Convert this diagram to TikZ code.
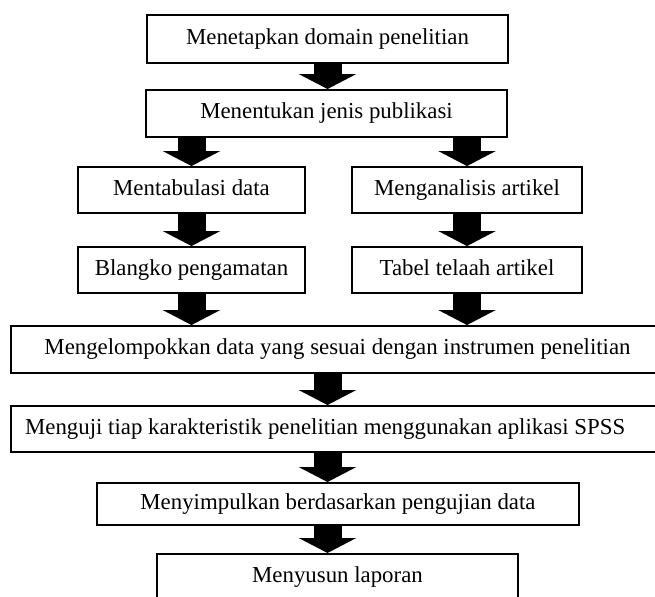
\documentclass[tikz,border=0pt]{standalone}
\usepackage{fontspec}
\setmainfont{Liberation Serif}
\usetikzlibrary{arrows.meta}

\begin{document}
\begin{tikzpicture}[x=0.02cm, y=-0.02cm, box/.style = {draw, line width=1.1pt, inner sep=0pt, text height=9pt, text depth=3pt, font=\fontsize{13}{15}\selectfont}, panah/.style = {line width=0.56cm, -{Triangle[length=0.3cm, width=1.14cm]}}]

    \useasboundingbox (0,0) rectangle (655,597);
    \clip (0,0) rectangle (655,597);

    % kotak
    \node[box, minimum width=7.22cm, minimum height=0.96cm] (domain) at (327.5,39) {Menetapkan domain penelitian};
    \node[box, minimum width=7.22cm, minimum height=0.94cm] (jenis) at (326.5,113.5) {Menentukan jenis publikasi};
    \node[box, minimum width=4.54cm, minimum height=0.92cm] (tabulasi) at (191.5,190) {Mentabulasi data};
    \node[box, minimum width=4.6cm, minimum height=0.92cm] (analisis) at (467,190) {Menganalisis artikel};
    \node[box, minimum width=4.54cm, minimum height=0.92cm] (blangko) at (191.5,270) {Blangko pengamatan};
    \node[box, minimum width=4.6cm, minimum height=0.92cm] (telaah) at (467,270) {Tabel telaah artikel};
    \node[box, minimum width=13.06cm, minimum height=0.94cm] (kelompok) at (337.5,349.5) {Mengelompokkan data yang sesuai dengan instrumen penelitian};
    \node[box, text width=12.5cm, inner xsep=0.28cm, align=flush left, minimum height=0.92cm] (uji) at (337.5,429) {Menguji tiap karakteristik penelitian menggunakan aplikasi SPSS};
    \node[box, minimum width=9.64cm, minimum height=0.84cm] (simpulkan) at (338,504) {Menyimpulkan berdasarkan pengujian data};
    \node[box, minimum width=7.22cm, inner ysep=0.25cm, text depth=30pt, anchor=north] (laporan) at (337.5,553) {Menyusun laporan};

    % panah
    \draw[panah] (domain.south) -- (jenis.north -| domain);
    \draw[panah] (jenis.south -| tabulasi) -- (tabulasi.north);
    \draw[panah] (jenis.south -| analisis) -- (analisis.north);
    \draw[panah] (tabulasi.south) -- (blangko.north);
    \draw[panah] (analisis.south) -- (telaah.north);
    \draw[panah] (blangko.south) -- (blangko.south |- kelompok.north);
    \draw[panah] (telaah.south) -- (telaah.south |- kelompok.north);
    \draw[panah] (kelompok.south -| domain) -- (uji.north -| domain);
    \draw[panah] (uji.south -| domain) -- (simpulkan.north -| domain);
    \draw[panah] (simpulkan.south -| domain) -- (laporan.north -| domain);

\end{tikzpicture}
\end{document}
